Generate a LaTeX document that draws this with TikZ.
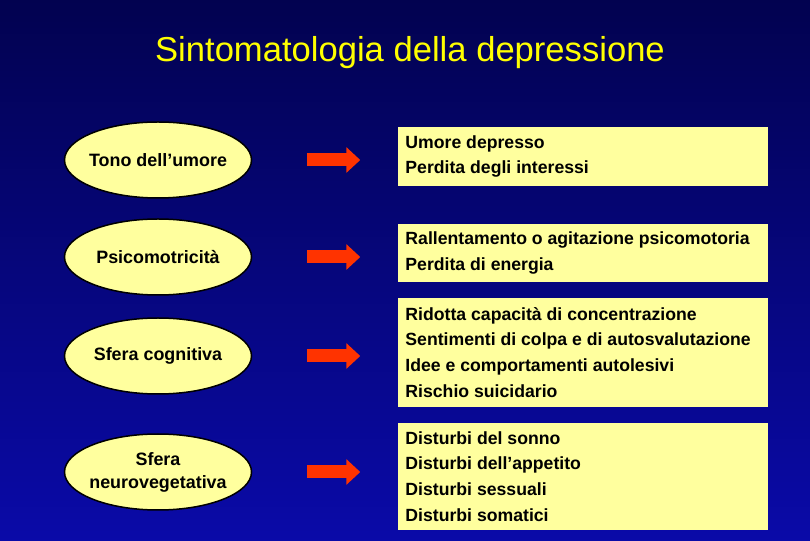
\documentclass[tikz,border=0pt]{standalone}
\usepackage{fontspec}
\setmainfont{Liberation Sans}
\usetikzlibrary{positioning}
\usetikzlibrary{arrows.meta}
\usetikzlibrary{shapes.geometric}
\definecolor{sfondoalto}{RGB}{2,2,80}
\definecolor{sfondobasso}{RGB}{10,10,168}
\definecolor{giallino}{RGB}{255,255,158}
\definecolor{giallotitolo}{RGB}{255,255,0}
\definecolor{rossofreccia}{RGB}{255,51,0}

\begin{document}
\begin{tikzpicture}[x=1pt,y=1pt,node distance=97pt,
	sfera/.style={draw=black, line width=1.5pt, fill=giallino, ellipse, minimum width=187pt, minimum height=76pt, inner sep=-3pt, align=center, font=\fontsize{17.9}{23}\selectfont\bfseries},
	sintomi/.style={fill=giallino, text width=356pt, inner xsep=7pt, inner ysep=0pt, align=flush left, font=\fontsize{17.65}{25.8}\selectfont\bfseries},
	freccia/.style={-{Triangle[length=14pt,width=25pt]}, line width=13pt, draw=rossofreccia, shorten <=55pt, shorten >=38pt}]
	\shade[top color=sfondoalto, bottom color=sfondobasso] (0,0) rectangle (810,540);
	\node (titolo) [anchor=base, text=giallotitolo, font=\fontsize{34.6}{40}\selectfont] at (410,478) {Sintomatologia della depressione};
	
	\node (e1) [sfera] at (158,380) {Tono dell’umore};
	\node (e2) [sfera, below of = e1] {Psicomotricità};
	\node (e3) [sfera, below of = e2, yshift=-2pt] {Sfera cognitiva};
	\node (e4) [sfera, below of = e3, yshift=-19pt] {Sfera\\neurovegetativa};
	
	\node (d1) [sintomi, right = 146pt of e1, yshift=3.5pt, minimum height=59pt] {Umore depresso\\Perdita degli interessi};
	\node (d2) [sintomi, right = 146pt of e2, yshift=4pt, minimum height=58pt] {Rallentamento o agitazione psicomotoria\\Perdita di energia};
	\node (d3) [sintomi, right = 146pt of e3, yshift=3.5pt, minimum height=109pt] {Ridotta capacità di concentrazione\\Sentimenti di colpa e di autosvalutazione\\Idee e comportamenti autolesivi\\Rischio suicidario};
	\node (d4) [sintomi, right = 146pt of e4, yshift=-4.5pt, minimum height=107pt] {Disturbi del sonno\\Disturbi dell’appetito\\Disturbi sessuali\\Disturbi somatici};
	
	\draw[freccia] (e1.east) -- (e1.east -| d1.west);
	\draw[freccia] (e2.east) -- (e2.east -| d2.west);
	\draw[freccia] (e3.east) -- (e3.east -| d3.west);
	\draw[freccia] (e4.east) -- (e4.east -| d4.west);
\end{tikzpicture}
\end{document}
